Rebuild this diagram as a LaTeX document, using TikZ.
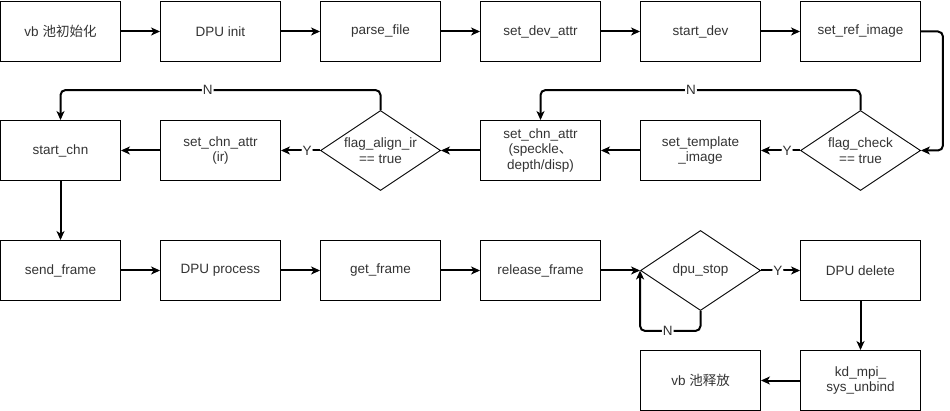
\documentclass[tikz,border=0pt]{standalone}
\usepackage{fontspec}
\setmainfont{Liberation Sans}
\newfontfamily\cjk{Noto Sans CJK SC}
\usetikzlibrary{shapes.geometric,arrows.meta}
\begin{document}
\begin{tikzpicture}[x=1pt,y=-1pt,
  txt/.style={font=\fontsize{13.5}{15.5}\selectfont, text=black!80},
  box/.style={draw, line width=0.9pt, minimum width=120pt, minimum height=60pt, inner sep=0pt, align=center, txt},
  dec/.style={draw, diamond, line width=0.9pt, minimum width=120pt, minimum height=80pt, inner sep=0pt, aspect=1.5, align=center, txt},
  conn/.style={line width=2pt, rounded corners=5pt, -{Stealth[length=9pt,width=8pt,inset=2.5pt]}},
  lbl/.style={fill=white, inner sep=1pt, txt}
]
\useasboundingbox (-0.5,-0.5) rectangle (949.5,410.5);
% row 1
\node[box] (vbinit) at (60,31) {vb {\cjk 池初始化}};
\node[box] (dpuinit) at (220,31) {DPU init};
\node[box] (parse) at (380,31) {parse\_file};
\node[box] (devattr) at (540,31) {set\_dev\_attr};
\node[box] (startdev) at (700,31) {start\_dev};
\node[box] (refimg) at (860,31) {set\_ref\_image};
% row 2
\node[dec] (fcheck) at (860,150) {flag\_check\\== true};
\node[box] (tmpl) at (700,150) {set\_template\\\_image};
\node[box] (chna) at (540,150) {set\_chn\_attr\\(speckle{\cjk 、}\\depth/disp)};
\node[dec] (falign) at (380,150) {flag\_align\_ir\\== true};
\node[box] (chnir) at (220,150) {set\_chn\_attr\\(ir)};
\node[box] (startchn) at (60,150) {start\_chn};
% row 3
\node[box] (send) at (60,270) {send\_frame};
\node[box] (proc) at (220,270) {DPU process};
\node[box] (getf) at (380,270) {get\_frame};
\node[box] (rel) at (540,270) {release\_frame};
\node[dec] (dstop) at (700,270) {dpu\_stop};
\node[box] (del) at (860,270) {DPU delete};
\node[box] (unbind) at (860,380) {kd\_mpi\_\\sys\_unbind};
\node[box] (vbfree) at (700,380) {vb {\cjk 池释放}};
% connectors row 1
\draw[conn] (vbinit) -- (dpuinit);
\draw[conn] (dpuinit) -- (parse);
\draw[conn] (parse) -- (devattr);
\draw[conn] (devattr) -- (startdev);
\draw[conn] (startdev) -- (refimg);
\draw[conn] (refimg.east) -| ++(22,60) |- (fcheck.east);
% row 2
\draw[conn] (fcheck.west) -- node[lbl, pos=0.33] {Y} (tmpl.east);
\draw[conn] (tmpl) -- (chna);
\draw[conn] (fcheck.north) -- ++(0,-20) -| node[lbl, pos=0.265] {N} (chna.north);
\draw[conn] (chna) -- (falign);
\draw[conn] (falign.west) -- node[lbl, pos=0.33] {Y} (chnir.east);
\draw[conn] (chnir) -- (startchn);
\draw[conn] (falign.north) -- ++(0,-20) -| node[lbl, pos=0.27] {N} (startchn.north);
\draw[conn] (startchn) -- (send);
% row 3
\draw[conn] (send) -- (proc);
\draw[conn] (proc) -- (getf);
\draw[conn] (getf) -- (rel);
\draw[conn] (rel) -- (dstop.west);
\draw[conn] (dstop.east) -- node[lbl, pos=0.43] {Y} (del.west);
\draw[conn] (dstop.south) -- ++(0,20) -| node[lbl, pos=0.27] {N} (dstop.west);
\draw[conn] (del) -- (unbind);
\draw[conn] (unbind) -- (vbfree);
\end{tikzpicture}
\end{document}
